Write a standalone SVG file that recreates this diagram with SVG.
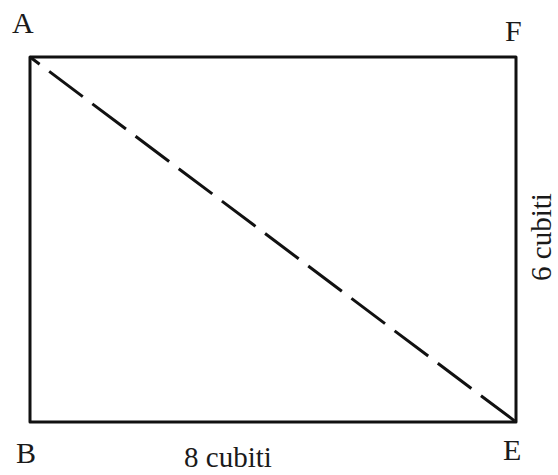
<svg xmlns="http://www.w3.org/2000/svg" width="558" height="475" viewBox="0 0 558 475">
<style>
.lbl{font-family:"Liberation Serif","Times New Roman",serif;font-size:30px;fill:#1a1a1a}
.dim{font-family:"Liberation Serif","Times New Roman",serif;font-size:29px;fill:#1a1a1a}
.edge{fill:none;stroke:#111;stroke-width:3;stroke-linejoin:round}
.diag{fill:none;stroke:#111;stroke-width:3;stroke-dasharray:42 12;stroke-dashoffset:30}
</style>
<rect width="558" height="475" fill="#fff"/>
<g id="rectangle">
<rect class="edge" x="30" y="57" width="486" height="365"/>
</g>
<g id="connectors">
<line class="diag" x1="30" y1="57" x2="516" y2="422"/>
</g>
<g id="node-A"><text class="lbl" x="12" y="33">A</text></g>
<g id="node-F"><text class="lbl" x="505" y="41">F</text></g>
<g id="node-B"><text class="lbl" x="16" y="463">B</text></g>
<g id="node-E"><text class="lbl" x="503" y="460">E</text></g>
<g id="label-bottom"><text class="dim" x="228" y="467" text-anchor="middle">8 cubiti</text></g>
<g id="label-right"><text class="dim" transform="translate(551,237) rotate(-90)" text-anchor="middle">6 cubiti</text></g>
</svg>
